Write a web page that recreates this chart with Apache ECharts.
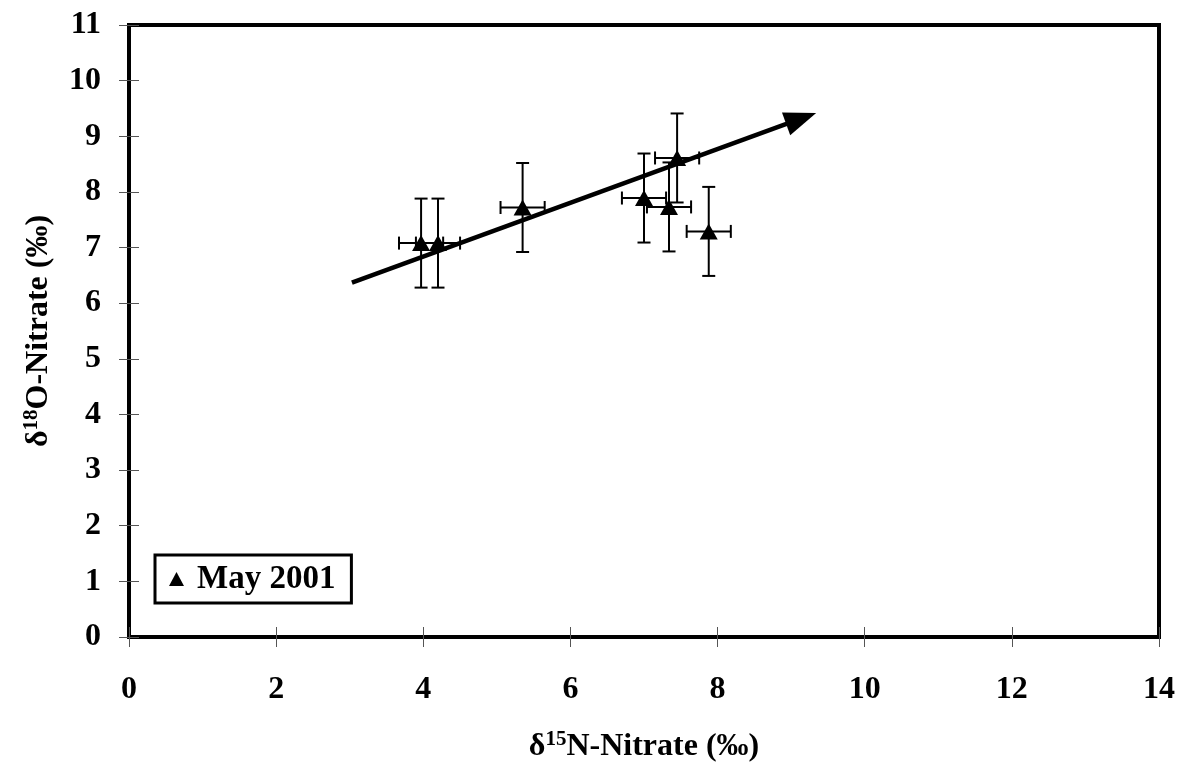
<!DOCTYPE html>
<html>
<head>
<meta charset="utf-8">
<script src="https://cdn.jsdelivr.net/npm/echarts@6/dist/echarts.min.js"></script>
<style>
  html, body { margin: 0; padding: 0; background: #fff; }
  #chart { width: 1179px; height: 769px; }
</style>
</head>
<body>
<div id="chart"></div>
<script>
// 数据点 (δ15N, δ18O)
const n15 = [3.97, 4.2, 5.35, 7.0, 7.34, 7.45, 7.88];
const o18 = [7.08, 7.08, 7.72, 7.89, 7.73, 8.61, 7.29];
const n15Err = [0.3, 0.3, 0.3, 0.3, 0.3, 0.3, 0.3];
const o18Err = [0.8, 0.8, 0.8, 0.8, 0.8, 0.8, 0.8];
// 趋势箭头 起点/终点
const arrowStart = [3.03, 6.37];
const arrowEnd = [9.34, 9.42];
const seriesName = 'May 2001';

const FONT = '"Liberation Serif", "Times New Roman", serif';

const chart = echarts.init(document.getElementById('chart'), null, { renderer: 'canvas' });

const points = n15.map((x, i) => [x, o18[i]]);
const errData = n15.map((x, i) => [x, o18[i], n15Err[i], o18Err[i]]);

const tickStyle = { color: '#555', width: 1 };

// 轴标题的富文本样式 (上标)
const titleRich = {
  d: { fontFamily: FONT, fontSize: 32, fontWeight: 'bold', color: '#000', lineHeight: 36 },
  s: { fontFamily: FONT, fontSize: 21, fontWeight: 'bold', color: '#000', lineHeight: 36, verticalAlign: 'top', padding: [0, 0, 16, 0] },
  t: { fontFamily: FONT, fontSize: 32, fontWeight: 'bold', color: '#000', lineHeight: 36 }
};

const option = {
  animation: false,
  backgroundColor: '#fff',
  grid: {
    left: 129, right: 20, top: 25, bottom: 132,
    outerBoundsMode: 'none',
    containLabel: false,
    show: true, borderColor: '#000', borderWidth: 4
  },
  legend: {
    data: [seriesName],
    left: 155, top: 555,
    orient: 'horizontal',
    icon: 'triangle',
    itemWidth: 15, itemHeight: 14,
    itemStyle: { color: '#000', opacity: 1 },
    padding: [6, 16, 6, 14],
    borderColor: '#000', borderWidth: 3,
    textStyle: {
      fontFamily: FONT, fontWeight: 'bold', fontSize: 33, color: '#000',
      lineHeight: 36, padding: [0, 0, 0, 8]
    }
  },
  xAxis: [{
    type: 'value', min: 0, max: 14, interval: 2,
    position: 'bottom',
    axisLine: { show: true, onZero: false, lineStyle: { color: '#000', width: 4 } },
    axisTick: { show: true, length: 10, lineStyle: tickStyle },
    splitLine: { show: false },
    axisLabel: { margin: 37, fontFamily: FONT, fontWeight: 'bold', fontSize: 32, color: '#000' },
    name: '{d|δ}{s|15}{t|N-Nitrate (‰)}',
    nameLocation: 'middle', nameGap: 92,
    nameTextStyle: { rich: titleRich }
  }, {
    type: 'value', min: 0, max: 14, interval: 2,
    position: 'bottom',
    axisLine: { show: false, onZero: false },
    axisTick: { show: true, inside: true, length: 10, lineStyle: tickStyle },
    axisLabel: { show: false },
    splitLine: { show: false }
  }],
  yAxis: [{
    type: 'value', min: 0, max: 11, interval: 1,
    position: 'left',
    axisLine: { show: true, onZero: false, lineStyle: { color: '#000', width: 4 } },
    axisTick: { show: true, length: 10, lineStyle: tickStyle },
    splitLine: { show: false },
    axisLabel: { margin: 28, fontFamily: FONT, fontWeight: 'bold', fontSize: 32, color: '#000' },
    name: '{d|δ}{s|18}{t|O-Nitrate (‰)}',
    nameLocation: 'middle', nameGap: 70, nameRotate: 90,
    nameTextStyle: { rich: titleRich }
  }, {
    type: 'value', min: 0, max: 11, interval: 1,
    position: 'left',
    axisLine: { show: false, onZero: false },
    axisTick: { show: true, inside: true, length: 10, lineStyle: tickStyle },
    axisLabel: { show: false },
    splitLine: { show: false }
  }],
  series: [
    {
      // 趋势箭头
      type: 'custom',
      name: 'arrow',
      silent: true,
      z: 2,
      data: [[arrowStart[0], arrowStart[1], arrowEnd[0], arrowEnd[1]]],
      renderItem: (params, api) => {
        const p1 = api.coord([api.value(0), api.value(1)]);
        const p2 = api.coord([api.value(2), api.value(3)]);
        const ang = Math.atan2(p2[1] - p1[1], p2[0] - p1[0]);
        const headLen = 32, headW = 12;
        const bx = p2[0] - headLen * Math.cos(ang);
        const by = p2[1] - headLen * Math.sin(ang);
        const nx = -Math.sin(ang), ny = Math.cos(ang);
        return {
          type: 'group',
          children: [{
            type: 'line',
            shape: { x1: p1[0], y1: p1[1], x2: bx + 4 * Math.cos(ang), y2: by + 4 * Math.sin(ang) },
            style: { stroke: '#000', lineWidth: 4.5 }
          }, {
            type: 'polygon',
            shape: { points: [p2, [bx + nx * headW, by + ny * headW], [bx - nx * headW, by - ny * headW]] },
            style: { fill: '#000' }
          }]
        };
      }
    },
    {
      // 误差线
      type: 'custom',
      name: 'errors',
      silent: true,
      z: 3,
      data: errData,
      renderItem: (params, api) => {
        const x = api.value(0), y = api.value(1), ex = api.value(2), ey = api.value(3);
        const top = api.coord([x, y + ey]);
        const bot = api.coord([x, y - ey]);
        const lft = api.coord([x - ex, y]);
        const rgt = api.coord([x + ex, y]);
        const cap = 6.5;
        const st = { stroke: '#000', lineWidth: 2 };
        return {
          type: 'group',
          children: [
            { type: 'line', shape: { x1: top[0], y1: top[1], x2: bot[0], y2: bot[1] }, style: st },
            { type: 'line', shape: { x1: top[0] - cap, y1: top[1], x2: top[0] + cap, y2: top[1] }, style: st },
            { type: 'line', shape: { x1: bot[0] - cap, y1: bot[1], x2: bot[0] + cap, y2: bot[1] }, style: st },
            { type: 'line', shape: { x1: lft[0], y1: lft[1], x2: rgt[0], y2: rgt[1] }, style: st },
            { type: 'line', shape: { x1: lft[0], y1: lft[1] - cap, x2: lft[0], y2: lft[1] + cap }, style: st },
            { type: 'line', shape: { x1: rgt[0], y1: rgt[1] - cap, x2: rgt[0], y2: rgt[1] + cap }, style: st }
          ]
        };
      }
    },
    {
      type: 'scatter',
      name: seriesName,
      z: 4,
      symbol: 'triangle',
      symbolSize: [18, 16],
      itemStyle: { color: '#000', opacity: 1 },
      data: points
    }
  ]
};

chart.setOption(option);
</script>
</body>
</html>
